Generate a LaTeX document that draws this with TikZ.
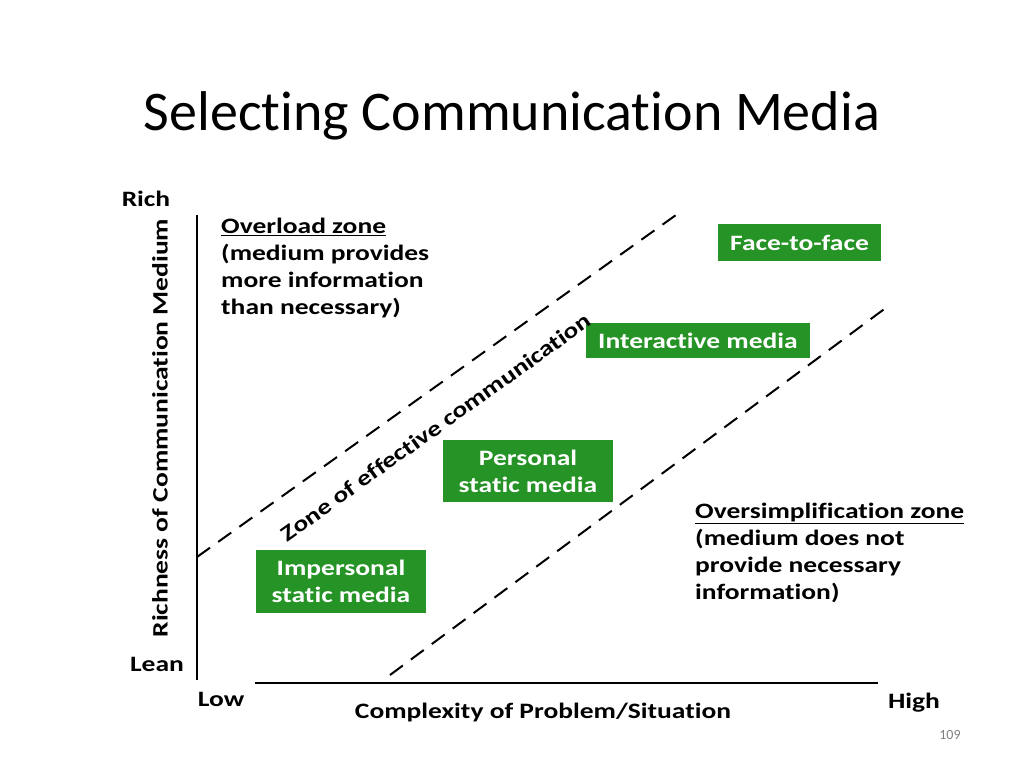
\documentclass[tikz,border=0pt]{standalone}
\usepackage{fontspec}
\setmainfont{Carlito}[Ligatures=NoCommon]
\newfontfamily\wide{Carlito}[FakeStretch=1.25,Ligatures=NoCommon]
\begin{document}
\begin{tikzpicture}[x=1pt,y=-1pt,
 lbl/.style={font=\wide\bfseries\fontsize{22}{27}\selectfont,inner sep=0pt},
 gbox/.style={fill=green!50!black!85,text=white,font=\wide\bfseries\fontsize{22}{27}\selectfont,align=center,inner sep=0pt},
 dl/.style={line width=2pt,dash pattern=on 16pt off 10pt}]
\useasboundingbox (0,0) rectangle (1024,768);
\node[font=\fontsize{56}{60}\selectfont] (t) at (512,116) {Selecting Communication Media};
\draw[line width=1.2pt] (197,215) coordinate (ya) -- (197,680) coordinate (yb);
\draw[line width=1.2pt] (255,683) coordinate (xa) -- (878,683) coordinate (xb);
\coordinate (d1a) at (197,557); \coordinate (d1b) at (683,210);
\coordinate (d2a) at (390,675); \coordinate (d2b) at (887,307);
\draw[dl] (d1a) -- (d1b);
\draw[dl] (d2a) -- (d2b);
\node[gbox,minimum width=163,minimum height=37] (f) at (799.5,242.5) {Face-to-face};
\node[gbox,minimum width=224,minimum height=35] (i) at (698,340.5) {Interactive media};
\node[gbox,minimum width=170,minimum height=62] (p) at (528,471) {Personal\\static media};
\node[gbox,minimum width=170,minimum height=63] (s) at (341,581.5) {Impersonal\\static media};
\node[lbl,rotate=35.5] (z) at (436,427) {Zone of effective communication};
\node[lbl,anchor=north west,align=left] (o) at (221,218) {\underline{Overload zone}\\(medium provides\\more information\\than necessary)};
\node[lbl,anchor=north west,align=left] (os) at (695,503) {\underline{Oversimplification zone}\\(medium does not\\provide necessary\\information)};
\node[lbl] (r) at (146,199) {Rich};
\node[lbl] (l) at (157,664) {Lean};
\node[lbl] (lo) at (221,699) {Low};
\node[lbl] (h) at (914,703) {High};
\node[lbl] (c) at (543,712) {Complexity of Problem/Situation};
\node[lbl,rotate=90] (ry) at (160,428) {Richness of Communication Medium};
\node[font=\fontsize{14}{16}\selectfont,text=gray] (n) at (950,735) {109};
\end{tikzpicture}
\end{document}
